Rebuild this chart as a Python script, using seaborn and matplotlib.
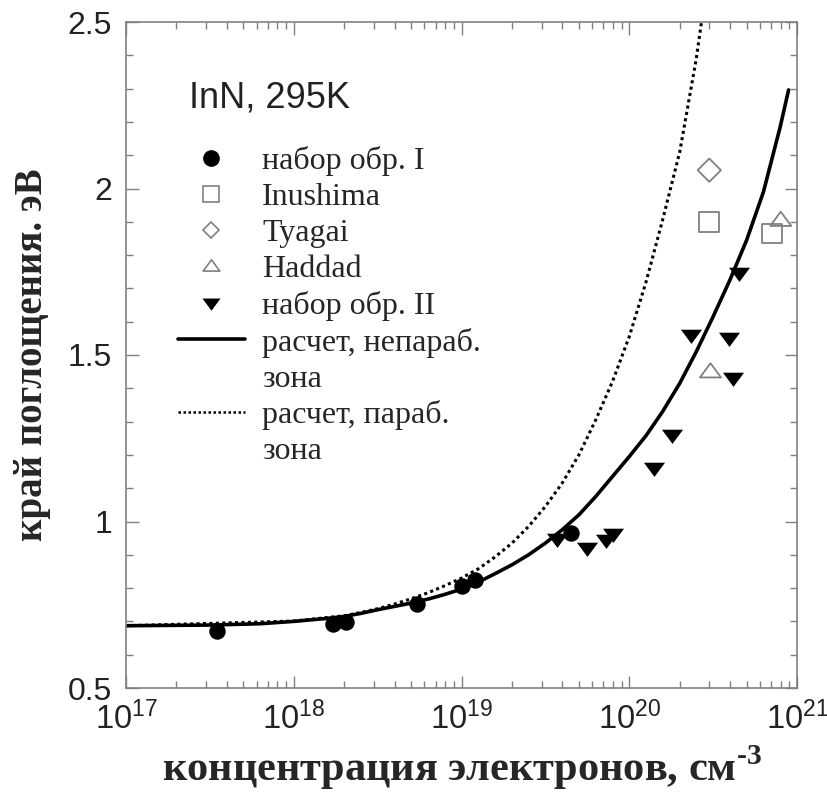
import matplotlib
matplotlib.use("Agg")
import matplotlib.pyplot as plt
from matplotlib.lines import Line2D
from matplotlib.path import Path
from matplotlib.ticker import LogLocator, MultipleLocator, NullFormatter
import seaborn as sns

# --- measured data: electron concentration (cm^-3) vs absorption edge (eV) ---
set1_n = [3.5e17, 1.72e18, 2.05e18, 5.4e18, 1.0e19, 1.2e19, 4.5e19]
set1_E = [0.672, 0.692, 0.698, 0.752, 0.805, 0.824, 0.965]

inushima_n = [3.0e20, 7.1e20]
inushima_E = [1.90, 1.865]

tyagai_n = [3.0e20]
tyagai_E = [2.055]

haddad_n = [3.05e20, 8.0e20]
haddad_E = [1.45, 1.905]

set2_n = [3.7e19, 5.6e19, 7.3e19, 8.0e19, 1.41e20, 1.80e20, 2.32e20, 3.95e20, 4.14e20, 4.5e20]
set2_E = [0.947, 0.920, 0.944, 0.962, 1.161, 1.260, 1.560, 1.550, 1.430, 1.745]

# --- calculated curves (non-parabolic and parabolic conduction band) ---
nonpar_n = [1.0e17, 3.16e17, 6.3e17, 1.0e18, 1.58e18, 2.0e18, 2.51e18,
            3.16e18, 3.98e18, 5.01e18, 6.31e18, 7.94e18, 1.0e19, 1.26e19, 1.58e19,
            2.0e19, 2.51e19, 3.16e19, 3.98e19, 5.01e19, 6.31e19, 7.94e19,
            1.0e20, 1.26e20, 1.58e20, 2.0e20, 2.51e20, 3.16e20, 3.98e20,
            5.01e20, 6.31e20, 7.94e20, 8.91e20]
nonpar_E = [0.687, 0.689, 0.693, 0.700, 0.709, 0.715, 0.724,
            0.735, 0.745, 0.755, 0.767, 0.781, 0.797, 0.818, 0.843,
            0.870, 0.900, 0.935, 0.975, 1.020, 1.075, 1.135,
            1.195, 1.258, 1.330, 1.415, 1.510, 1.615, 1.725,
            1.845, 1.990, 2.185, 2.296]

par_n = [1.0e17, 1.0e18, 2.0e18, 2.51e18, 3.16e18, 3.98e18, 5.01e18, 6.31e18,
         7.94e18, 1.0e19, 1.26e19, 1.58e19, 2.0e19, 2.51e19, 3.16e19, 3.98e19,
         5.01e19, 6.31e19, 7.94e19, 1.0e20, 1.26e20, 1.58e20, 2.0e20, 2.51e20,
         2.82e20]
par_E = [0.687, 0.701, 0.717, 0.727, 0.738, 0.752, 0.768, 0.786,
         0.807, 0.830, 0.858, 0.893, 0.935, 0.985, 1.045, 1.115,
         1.200, 1.305, 1.420, 1.555, 1.720, 1.905, 2.110, 2.390,
         2.570]

x_ticks = [1e17, 1e18, 1e19, 1e20, 1e21]
x_tick_labels = ["$10^{17}$", "$10^{18}$", "$10^{19}$", "$10^{20}$", "$10^{21}$"]
y_ticks = [0.5, 1.0, 1.5, 2.0, 2.5]
y_tick_labels = ["0.5", "1", "1.5", "2", "2.5"]

legend_labels = ["набор обр. I", "Inushima", "Tyagai", "Haddad", "набор обр. II",
                 "расчет, непараб.", "зона", "расчет, параб.", "зона"]

sns.set_style("ticks")
plt.rcParams["font.family"] = ["Liberation Serif", "DejaVu Serif"]
plt.rcParams["mathtext.fontset"] = "custom"
plt.rcParams["mathtext.rm"] = "Liberation Sans"
plt.rcParams["mathtext.it"] = "Liberation Sans:italic"
plt.rcParams["mathtext.bf"] = "Liberation Serif:bold"

fig = plt.figure(figsize=(8.27, 7.92), dpi=100)
ax = fig.add_axes([126 / 827, 1 - 688 / 792, 671 / 827, 666 / 792])

# wide, flat triangles
tri_down = Path([(-1.0, 0.55), (1.0, 0.55), (0.0, -0.8), (-1.0, 0.55)],
                [Path.MOVETO, Path.LINETO, Path.LINETO, Path.CLOSEPOLY])
tri_up = Path([(-1.0, -0.55), (1.0, -0.55), (0.0, 0.8), (-1.0, -0.55)],
              [Path.MOVETO, Path.LINETO, Path.LINETO, Path.CLOSEPOLY])

grey = "0.5"

sns.lineplot(x=par_n, y=par_E, ax=ax, color="black", lw=2.2,
             linestyle=(0, (1, 1.1)), estimator=None, sort=False, legend=False)
sns.lineplot(x=nonpar_n, y=nonpar_E, ax=ax, color="black", lw=2.6,
             estimator=None, sort=False, legend=False)

sns.scatterplot(x=set1_n, y=set1_E, ax=ax, marker="o", s=140, color="black",
                edgecolor="black", linewidth=0, legend=False, zorder=3)
sns.scatterplot(x=inushima_n, y=inushima_E, ax=ax, marker="s", s=200, color=grey,
                facecolor="none", edgecolor=grey, linewidth=1.3, legend=False, zorder=3)
sns.scatterplot(x=tyagai_n, y=tyagai_E, ax=ax, marker="D", s=140, color=grey,
                facecolor="none", edgecolor=grey, linewidth=1.3, legend=False, zorder=3)
sns.scatterplot(x=haddad_n, y=haddad_E, ax=ax, marker=tri_up, s=230, color=grey,
                facecolor="none", edgecolor=grey, linewidth=1.3, legend=False, zorder=3)
sns.scatterplot(x=set2_n, y=set2_E, ax=ax, marker=tri_down, s=230, color="black",
                edgecolor="black", linewidth=0, legend=False, zorder=3)

ax.set_xscale("log")
ax.set_xlim(1e17, 1e21)
ax.set_ylim(0.5, 2.5)

ax.set_xticks(x_ticks)
ax.set_xticklabels(x_tick_labels, fontsize=23.5)
ax.xaxis.set_minor_locator(LogLocator(base=10, subs=range(2, 10), numticks=50))
ax.xaxis.set_minor_formatter(NullFormatter())
ax.set_yticks(y_ticks)
ax.set_yticklabels(y_tick_labels, family="Liberation Sans", fontsize=23)
ax.yaxis.set_minor_locator(MultipleLocator(0.1))

ax.tick_params(which="both", direction="in", top=True, right=True,
               color=grey, width=1.0, labelcolor="#222222")
ax.tick_params(which="major", length=9)
ax.tick_params(which="minor", length=5)
ax.tick_params(axis="y", pad=10)
ax.tick_params(axis="x", pad=10)
for sp in ax.spines.values():
    sp.set_color(grey)
    sp.set_linewidth(1.2)

ax.set_xlabel("концентрация электронов, см$^{\\mathbf{\u2010 3}}$",
              fontsize=30.5, fontweight="bold", labelpad=5)
ax.set_ylabel("край поглощения. эВ", fontsize=28, fontweight="bold", labelpad=12)

ax.text(0.094, 0.872, "InN, 295K", transform=ax.transAxes, family="Liberation Sans",
        fontsize=26, color="#222222", va="baseline", ha="left")

handles = [
    Line2D([], [], ls="none", marker="o", ms=11, mfc="black", mec="black"),
    Line2D([], [], ls="none", marker="s", ms=11, mfc="none", mec=grey, mew=1.2),
    Line2D([], [], ls="none", marker="D", ms=8.5, mfc="none", mec=grey, mew=1.2),
    Line2D([], [], ls="none", marker=tri_up, ms=12, mfc="none", mec=grey, mew=1.2),
    Line2D([], [], ls="none", marker=tri_down, ms=13, mfc="black", mec="black", mew=0),
    Line2D([], [], color="black", lw=2.6),
    Line2D([], [], ls="none"),
    Line2D([], [], color="black", lw=1.8, ls=(0, (1, 1))),
    Line2D([], [], ls="none"),
]
ax.legend(handles, legend_labels, loc="upper left", bbox_to_anchor=(0.077, 0.814),
          frameon=False, fontsize=23, handlelength=2.1, handletextpad=0.55,
          labelspacing=0.21, borderpad=0, borderaxespad=0)

fig.savefig("out.png", dpi=100)
